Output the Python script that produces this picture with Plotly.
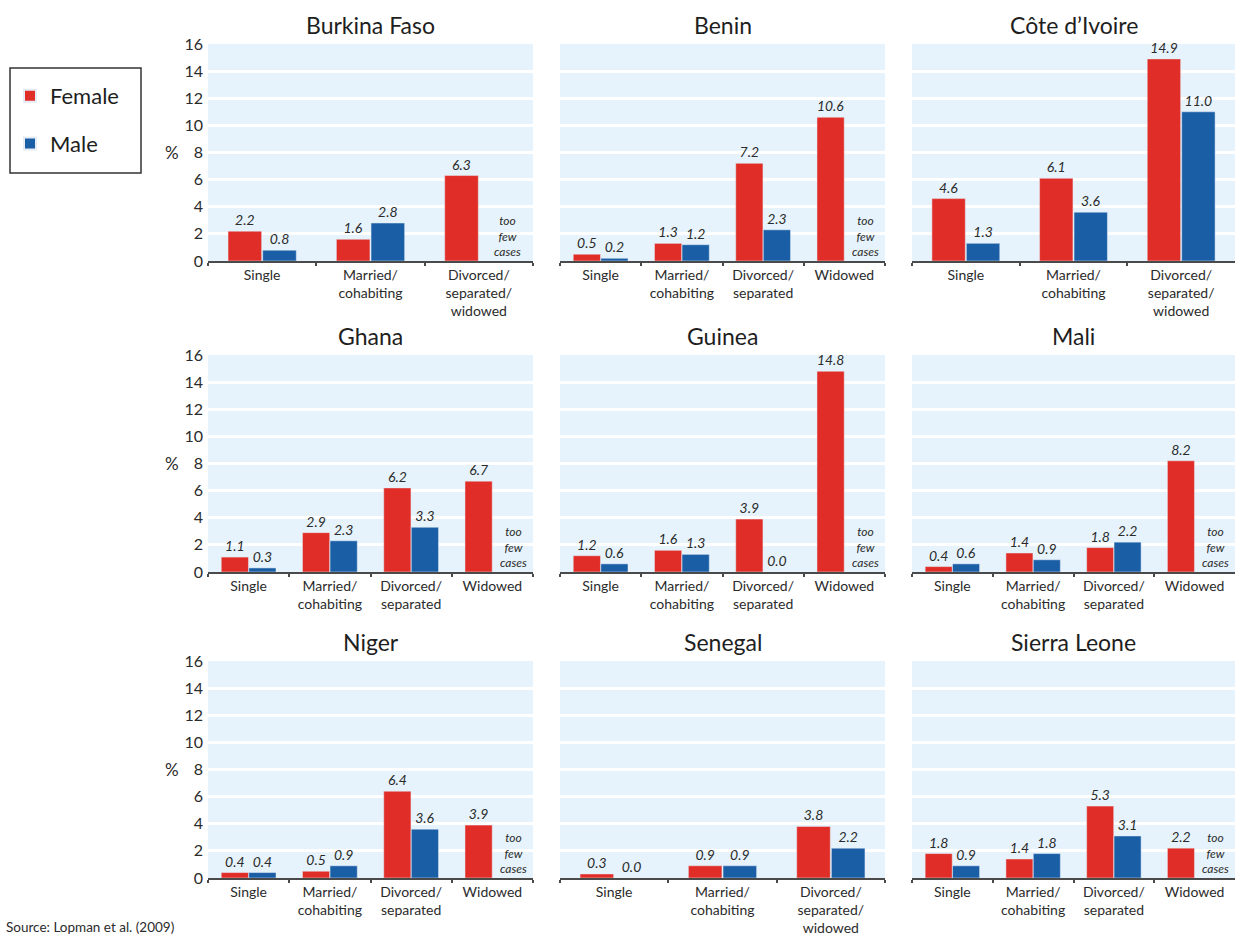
import plotly.graph_objects as go
from plotly.subplots import make_subplots

# categories
cats3 = ["Single", "Married/<br>cohabiting", "Divorced/<br>separated/<br>widowed"]
cats4 = ["Single", "Married/<br>cohabiting", "Divorced/<br>separated", "Widowed"]

# values (%), None = too few cases
bf_female = [2.2, 1.6, 6.3]
bf_male = [0.8, 2.8, None]
bj_female = [0.5, 1.3, 7.2, 10.6]
bj_male = [0.2, 1.2, 2.3, None]
ci_female = [4.6, 6.1, 14.9]
ci_male = [1.3, 3.6, 11.0]
gh_female = [1.1, 2.9, 6.2, 6.7]
gh_male = [0.3, 2.3, 3.3, None]
gn_female = [1.2, 1.6, 3.9, 14.8]
gn_male = [0.6, 1.3, 0.0, None]
ml_female = [0.4, 1.4, 1.8, 8.2]
ml_male = [0.6, 0.9, 2.2, None]
ne_female = [0.4, 0.5, 6.4, 3.9]
ne_male = [0.4, 0.9, 3.6, None]
sn_female = [0.3, 0.9, 3.8]
sn_male = [0.0, 0.9, 2.2]
sl_female = [1.8, 1.4, 5.3, 2.2]
sl_male = [0.9, 1.8, 3.1, None]

panels = [
    ("Burkina Faso", cats3, bf_female, bf_male),
    ("Benin", cats4, bj_female, bj_male),
    ("Côte d’Ivoire", cats3, ci_female, ci_male),
    ("Ghana", cats4, gh_female, gh_male),
    ("Guinea", cats4, gn_female, gn_male),
    ("Mali", cats4, ml_female, ml_male),
    ("Niger", cats4, ne_female, ne_male),
    ("Senegal", cats3, sn_female, sn_male),
    ("Sierra Leone", cats4, sl_female, sl_male),
]

RED = "#E12D27"
BLUE = "#1A5EA6"
BG = "#E6F3FC"
TXT = "#2b2b2b"
FONT = "Lato"

W, H = 1235, 936
col_px = [(208, 533), (560, 885), (912, 1235)]
row_px = [(44, 261), (355, 572), (661, 878)]

fig = make_subplots(rows=3, cols=3)

for i, (name, cats, fem, mal) in enumerate(panels):
    r, c = i // 3 + 1, i % 3 + 1
    n = len(cats)
    w = 0.31 if n == 3 else 0.335
    g = 0.01 if n == 3 else 0.004
    fig.add_trace(go.Bar(
        x=cats, y=fem, name="Female", marker_color=RED,
        width=w, offset=-w - g / 2,
        text=[f"{v:.1f}" if v is not None else "" for v in fem],
        textposition="outside", cliponaxis=False,
        textfont=dict(size=14, color=TXT, style="italic", family=FONT),
        showlegend=(i == 0), legendgroup="f",
    ), row=r, col=c)
    fig.add_trace(go.Bar(
        x=cats, y=mal, name="Male", marker_color=BLUE,
        width=w, offset=g / 2,
        text=[f"{v:.1f}" if v is not None else "" for v in mal],
        textposition="outside", cliponaxis=False,
        textfont=dict(size=14, color=TXT, style="italic", family=FONT),
        showlegend=(i == 0), legendgroup="m",
    ), row=r, col=c)

    ax = "" if i == 0 else str(i + 1)
    x0, x1 = col_px[c - 1]
    y0, y1 = row_px[r - 1]
    fig.update_layout({
        f"xaxis{ax}": dict(
            domain=[x0 / W, x1 / W], type="category", range=[-0.5, n - 0.5],
            showline=True, linecolor="#4a4a4a", linewidth=2, automargin=False,
            ticks="outside", tickson="boundaries", ticklen=3, tickwidth=1.5, tickcolor="#4a4a4a",
            showgrid=False, tickfont=dict(size=14, color=TXT, family=FONT),
        ),
        f"yaxis{ax}": dict(
            domain=[1 - y1 / H, 1 - y0 / H], range=[0, 16], dtick=2, automargin=False,
            showgrid=True, gridcolor="white", gridwidth=2.5, zeroline=False,
            showticklabels=(c == 1), ticks="", ticklabelstandoff=4,
            tickfont=dict(size=16, color=TXT, family=FONT),
        ),
    })

    # panel title
    fig.add_annotation(text=name, x=(x0 + x1) / 2 / W, y=1 - (y0 - 19) / H,
                       xref="paper", yref="paper", xanchor="center", yanchor="middle",
                       showarrow=False, font=dict(size=23, color="#1e1e1e", family=FONT))
    if c == 1:
        fig.add_annotation(text="%", x=172 / W, y=8, xref="paper", yref=f"y{ax}",
                           xanchor="center", showarrow=False,
                           font=dict(size=17, color=TXT, family=FONT))
    if mal[-1] is None:
        fig.add_annotation(text="<i>too<br>few<br>cases</i>", x=n - 1 + 0.26, y=1.85,
                           xref=f"x{ax}", yref=f"y{ax}", showarrow=False,
                           font=dict(size=12, color=TXT, family=FONT))

fig.add_annotation(text="Source: Lopman et al. (2009)", x=4 / W, y=1 - 917 / H,
                   xref="paper", yref="paper", xanchor="left", yanchor="top",
                   showarrow=False, font=dict(size=13.5, color=TXT, family=FONT))

# legend frame
fig.add_shape(type="rect", xref="paper", yref="paper",
              x0=10 / W, x1=141 / W, y0=1 - 173 / H, y1=1 - 68 / H,
              line=dict(color="#333", width=1.5), fillcolor="white", layer="below")

fig.update_layout(
    width=W, height=H,
    margin=dict(l=0, r=0, t=0, b=0, autoexpand=False),
    plot_bgcolor=BG, paper_bgcolor="white",
    barmode="overlay",
    font=dict(family=FONT, color=TXT),
    legend=dict(
        x=10 / W, y=1 - 75 / H, xanchor="left", yanchor="top",
        borderwidth=0, bgcolor="rgba(0,0,0,0)",
        font=dict(size=22, color="#1e1e1e", family=FONT),
        tracegroupgap=16, itemsizing="constant",
    ),
)

fig.write_html("out.html", config={"displayModeBar": False},
               post_script="document.body.style.margin='0px';")
